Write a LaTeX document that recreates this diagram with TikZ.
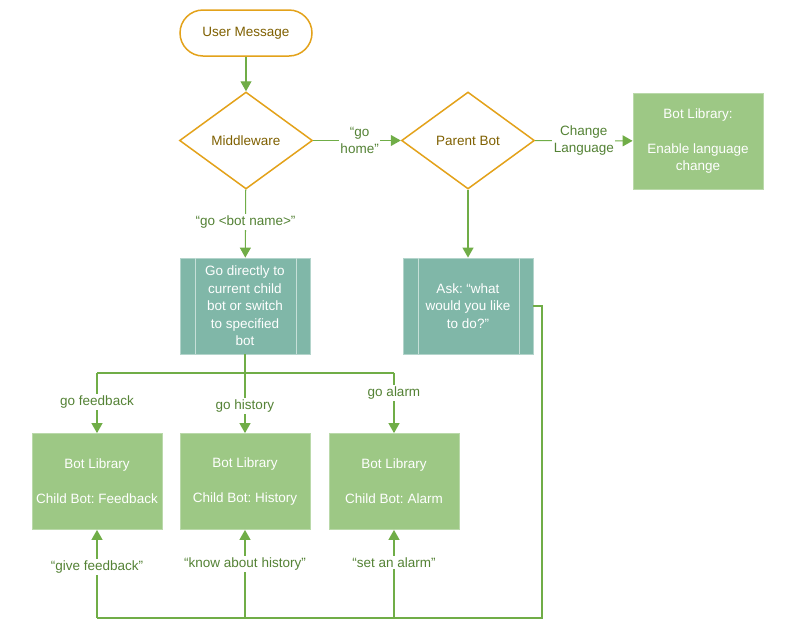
\documentclass[tikz,border=0pt]{standalone}
\usepackage{fontspec}
\setmainfont{Liberation Sans}
\usetikzlibrary{positioning, arrows.meta, shapes.geometric}
\usepackage{xcolor}
\frenchspacing

\definecolor{flowgreen}{HTML}{70AD47}
\definecolor{labelgreen}{HTML}{548235}
\definecolor{decborder}{HTML}{E3A21A}
\definecolor{dectext}{HTML}{7F6000}
\definecolor{libfill}{HTML}{9DC885}
\definecolor{procfill}{HTML}{80B7A8}

\tikzset{
    txt/.style={font=\fontsize{13.5}{17.5}\selectfont, align=center},
    startbox/.style={txt, draw=decborder, line width=1.5pt, fill=white, text=dectext,
        rounded corners=23pt, minimum width=132pt, minimum height=46pt},
    decision/.style={txt, diamond, draw=decborder, line width=1.5pt, fill=white, text=dectext,
        inner sep=0pt, minimum width=133pt, minimum height=97pt},
    libbox/.style={txt, draw=libfill!70!white, line width=0.8pt, fill=libfill, text=white,
        minimum width=130pt, minimum height=96pt, inner sep=0pt},
    procbox/.style={txt, draw=procfill!60!white, line width=0.8pt, fill=procfill, text=white,
        minimum width=130pt, minimum height=96pt, inner sep=0pt},
    divider/.style={draw=procfill!45!white, line width=1.2pt},
    link/.style={draw=flowgreen, line width=1.1pt},
    flow/.style={link, -{Triangle[length=10pt, width=11pt]}},
    lbl/.style={txt, text=labelgreen, fill=white, inner sep=1.5pt},
}

\begin{document}
\begin{tikzpicture}[x=1pt, y=-1pt]
    \useasboundingbox (0,0) rectangle (787,638);

    % Top row
    \node[startbox] (usermsg) at (246,33) {User Message};
    \node[decision] (middleware) at (246,140.5) {Middleware};
    \node[decision] (parentbot) at (468,140.5) {Parent Bot};
    \node[libbox] (langlib) at (698,141) {Bot Library:\\[17.5pt]Enable language\\change};

    % Process boxes
    \node[procbox] (gobox) at (245,306) {Go directly to\\current child\\bot or switch\\to specified\\bot};
    \node[procbox] (askbox) at (468,306) {Ask: “what\\would you like\\to do?”};
    \draw[divider] ([xshift=16pt]gobox.north west) -- ([xshift=16pt]gobox.south west);
    \draw[divider] ([xshift=-14pt]gobox.north east) -- ([xshift=-14pt]gobox.south east);
    \draw[divider] ([xshift=16pt]askbox.north west) -- ([xshift=16pt]askbox.south west);
    \draw[divider] ([xshift=-14pt]askbox.north east) -- ([xshift=-14pt]askbox.south east);

    % Child bots
    \node[libbox] (feedback) at (97,481.5) {Bot Library\\[17.5pt]Child Bot: Feedback};
    \node[libbox] (history) at (245,481.5) {Bot Library\\[17.5pt]Child Bot: History};
    \node[libbox] (alarm) at (394,481.5) {Bot Library\\[17.5pt]Child Bot: Alarm};

    % Main flow
    \draw[flow] (usermsg) -- (middleware);
    \draw[flow] (middleware) -- node[lbl, pos=0.53] {“go\\home”} (parentbot);
    \draw[flow] (parentbot) -- node[lbl, pos=0.5] {Change\\Language} (langlib);
    \draw[flow] (middleware) -- node[lbl, pos=0.48] {“go <bot name>”} (gobox);
    \draw[flow] (parentbot) -- (askbox);

    % Branch to the child bots
    \coordinate (split) at (gobox.south |- 0,373);
    \draw[link] (gobox) -- (split);
    \draw[link] (split -| feedback) -- (split -| alarm);
    \draw[flow] (split -| feedback) -- node[lbl, pos=0.48] {go feedback} (feedback);
    \draw[flow] (split) -- node[lbl, pos=0.55] {go history} (history);
    \draw[flow] (split -| alarm) -- node[lbl, pos=0.33] {go alarm} (alarm);

    % Loop back from the parent bot
    \coordinate (loopcorner) at (542,618);
    \draw[link] (askbox.east) -- (askbox.east -| loopcorner) -- (loopcorner) -- (loopcorner -| feedback);
    \draw[flow] (loopcorner -| feedback) -- node[lbl, pos=0.58] {“give feedback”} (feedback);
    \draw[flow] (loopcorner -| history) -- node[lbl, pos=0.61] {“know about history”} (history);
    \draw[flow] (loopcorner -| alarm) -- node[lbl, pos=0.625] {“set an alarm”} (alarm);

\end{tikzpicture}
\end{document}
